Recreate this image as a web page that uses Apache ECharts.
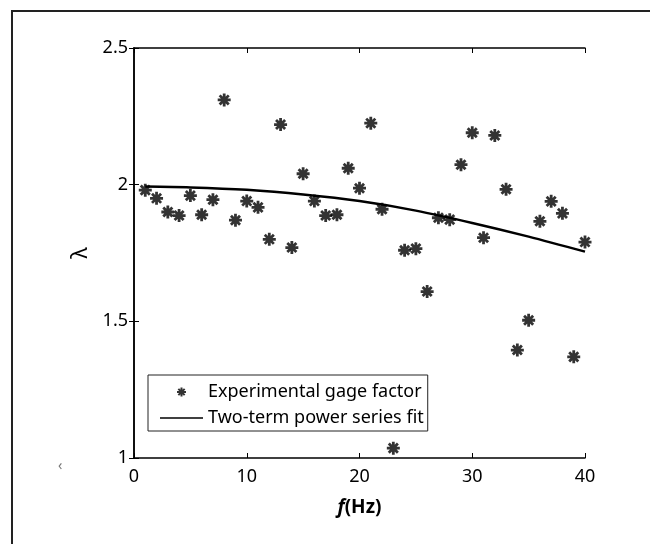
<!DOCTYPE html>
<html>
<head>
<meta charset="utf-8">
<script src="https://cdn.jsdelivr.net/npm/echarts@6/dist/echarts.min.js"></script>
<style>
  html, body { margin: 0; padding: 0; background: #fff; }
  #main { width: 650px; height: 544px; }
</style>
</head>
<body>
<div id="main"></div>
<script>
// measured gage factor per frequency
var freq = [1, 2, 3, 4, 5, 6, 7, 8, 9, 10, 11, 12, 13, 14, 15, 16, 17, 18, 19, 20,
            21, 22, 23, 24, 25, 26, 27, 28, 29, 30, 31, 32, 33, 34, 35, 36, 37, 38, 39, 40];
var gage = [1.98, 1.95, 1.90, 1.887, 1.96, 1.89, 1.945, 2.31, 1.87, 1.94,
            1.917, 1.80, 2.22, 1.77, 2.04, 1.94, 1.887, 1.89, 2.06, 1.987,
            2.225, 1.91, 1.036, 1.76, 1.766, 1.609, 1.879, 1.872, 2.073, 2.19,
            1.806, 2.18, 1.983, 1.395, 1.504, 1.866, 1.939, 1.895, 1.37, 1.79];

// fit curve
var fitF = [1, 5, 10, 15, 20, 25, 30, 35, 40];
var fitY = [1.993, 1.99, 1.981, 1.964, 1.94, 1.905, 1.86, 1.81, 1.755];

var xTicks = [0, 10, 20, 30, 40];
var yTicks = [1, 1.5, 2, 2.5];

var ink = '#000';
var font = 'Noto Sans';
var asterisk = 'path://M10,0L10,20M0,10L20,10M3,3L17,17M3,17L17,3';

var chart = echarts.init(document.getElementById('main'));

var option = {
  backgroundColor: '#fff',
  animation: false,
  textStyle: { fontFamily: font, color: ink },
  grid: { left: 134, right: 65, top: 48, bottom: 86 },
  legend: {
    orient: 'vertical',
    left: 148,
    top: 375,
    padding: [7, 4, 3, 12],
    itemWidth: 43,
    itemHeight: 9,
    itemGap: 6,
    borderColor: '#222',
    borderWidth: 1,
    backgroundColor: '#fff',
    textStyle: { fontFamily: font, fontSize: 18, color: ink, lineHeight: 20 },
    data: [
      { name: 'Experimental gage factor', icon: asterisk },
      { name: 'Two-term power series fit', icon: 'path://M0,0L86,0L86,3L0,3Z' }
    ]
  },
  xAxis: [{
    type: 'value',
    min: 0, max: 40, interval: 10,
    name: '{i|f}{n|(Hz)}',
    nameLocation: 'middle',
    nameGap: 40,
    nameTextStyle: {
      rich: {
        i: { fontFamily: font, fontSize: 19, fontWeight: 'bold', fontStyle: 'italic', color: ink },
        n: { fontFamily: font, fontSize: 19, fontWeight: 'bold', color: ink }
      }
    },
    axisLine: { onZero: false, lineStyle: { color: ink, width: 1.5 } },
    axisTick: { inside: true, length: 5, lineStyle: { color: ink } },
    axisLabel: { margin: 10, fontSize: 18, color: ink, fontFamily: font,
                 formatter: function (v) { return xTicks.indexOf(v) >= 0 ? String(v) : ''; } },
    splitLine: { show: false }
  }, {
    type: 'value',
    position: 'top',
    min: 0, max: 40, interval: 10,
    axisLine: { lineStyle: { color: ink, width: 1.5 } },
    axisTick: { inside: true, length: 5, lineStyle: { color: ink } },
    axisLabel: { show: false },
    splitLine: { show: false }
  }],
  yAxis: [{
    type: 'value',
    min: 1, max: 2.5, interval: 0.5,
    name: 'λ',
    nameLocation: 'middle',
    nameGap: 30,
    nameRotate: 90,
    nameTextStyle: { fontSize: 22, color: ink, fontFamily: font },
    axisLine: { show: true, onZero: false, lineStyle: { color: ink, width: 1.5 } },
    axisTick: { show: true, inside: true, length: 5, lineStyle: { color: ink } },
    axisLabel: { margin: 6, fontSize: 18, color: ink, fontFamily: font,
                 formatter: function (v) { return yTicks.indexOf(v) >= 0 ? String(v) : ''; } },
    splitLine: { show: false }
  }, {
    type: 'value',
    position: 'right',
    min: 1, max: 2.5, interval: 0.5,
    axisLine: { show: true, lineStyle: { color: ink, width: 1.5 } },
    axisTick: { show: true, inside: true, length: 5, lineStyle: { color: ink } },
    axisLabel: { show: false },
    splitLine: { show: false }
  }],
  series: [{
    name: 'Experimental gage factor',
    type: 'scatter',
    symbol: asterisk,
    symbolSize: 13,
    itemStyle: { color: ink, borderColor: ink, borderWidth: 2.8 },
    data: freq.map(function (f, i) { return [f, gage[i]]; }),
    z: 3
  }, {
    name: 'Two-term power series fit',
    type: 'line',
    smooth: 0.3,
    symbol: 'none',
    lineStyle: { color: ink, width: 2.5 },
    itemStyle: { color: ink },
    data: fitF.map(function (f, i) { return [f, fitY[i]]; }),
    z: 2
  }],
  graphic: [{
    type: 'polyline',
    shape: { points: [[12, 544], [12, 11], [650, 11]] },
    style: { stroke: '#222', lineWidth: 2, fill: null },
    silent: true
  }, {
    type: 'text',
    left: 58, top: 459,
    style: { text: '‹', fontSize: 14, fill: '#777', fontFamily: font },
    silent: true
  }]
};

chart.setOption(option);
</script>
</body>
</html>
